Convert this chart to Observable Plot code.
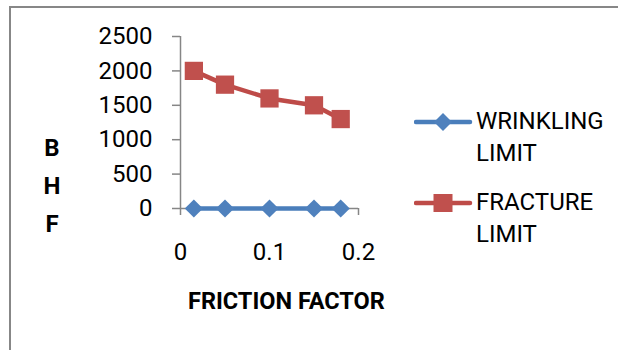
<!DOCTYPE html>
<html><head><meta charset="utf-8">
<script src="https://cdn.jsdelivr.net/npm/d3@7"></script>
<script src="https://cdn.jsdelivr.net/npm/@observablehq/plot@0.6"></script>
<style>
body{margin:0;background:#fff;font-family:Roboto,sans-serif;}
#wrap{position:relative;width:618px;height:350px;overflow:hidden;background:#fff;}
#frame{position:absolute;left:9px;top:6px;width:640px;height:400px;border:2px solid #878787;box-sizing:border-box;}
#chart{position:absolute;left:0;top:0;}
.lg{position:absolute;left:414px;display:flex;align-items:flex-start;}
.lg .t{font-size:24px;line-height:32px;color:#000;}
#ylab{position:absolute;left:40px;top:129px;width:24px;text-align:center;font-weight:bold;font-size:24px;line-height:38px;}
#xlab{position:absolute;left:188px;top:286px;font-weight:bold;font-size:23.5px;line-height:30px;white-space:nowrap;}
</style></head><body>
<div id="wrap">
  <div id="frame"></div>
  <div id="chart"></div>
  <div id="ylab">B<br>H<br>F</div>
  <div id="xlab"></div>
  <div id="legend"></div>
</div>
<script>
const friction = [0.015, 0.05, 0.1, 0.15, 0.18];
const wrinklingLimit = [0, 0, 0, 0, 0];
const fractureLimit = [2000, 1800, 1600, 1500, 1300];
const seriesNames = ["WRINKLING LIMIT", "FRACTURE LIMIT"];
const yTicks = [0, 500, 1000, 1500, 2000, 2500];
const xTicks = [0, 0.1, 0.2];
const xEndTicks = [0, 0.2];
const xTitle = "FRICTION FACTOR";

const blue = "#4f81bd", blueLine = "#4a7ebb";
const red = "#c0504d", redLine = "#be4b48";
const axisGray = "#868686";

const wr = friction.map((f, i) => ({f, v: wrinklingLimit[i]}));
const fr = friction.map((f, i) => ({f, v: fractureLimit[i]}));

const chart = Plot.plot({
  width: 618, height: 350,
  marginLeft: 180, marginRight: 260, marginTop: 36, marginBottom: 142,
  x: {domain: [0, 0.2]},
  y: {domain: [0, 2500]},
  style: {fontFamily: "Roboto, sans-serif", fontSize: "24px", background: "transparent", overflow: "visible", color: "#000"},
  marks: [
    Plot.ruleX([0], {stroke: axisGray, strokeWidth: 1.5}),
    Plot.ruleY([0], {stroke: axisGray, strokeWidth: 1.5}),
    Plot.axisY({ticks: yTicks, tickSize: 8, tickPadding: 20, stroke: axisGray, fill: "#000", label: null, fontSize: 24, strokeWidth: 1.5, tickFormat: d => String(d)}),
    Plot.axisX({ticks: xEndTicks, tickSize: 7, tickFormat: () => "", stroke: axisGray, label: null, strokeWidth: 1.5}),
    Plot.axisX({ticks: xTicks, tickSize: 0, tickPadding: 34, fill: "#000", label: null, fontSize: 24, tickFormat: d => String(d)}),
    Plot.line(wr, {x: "f", y: "v", stroke: blueLine, strokeWidth: 4.5, strokeLinejoin: "round"}),
    Plot.line(fr, {x: "f", y: "v", stroke: redLine, strokeWidth: 4.5, strokeLinejoin: "round"}),
    Plot.dot(wr, {x: "f", y: "v", symbol: "diamond2", r: 8.2, fill: blue, stroke: "none"}),
    Plot.dot(fr, {x: "f", y: "v", symbol: "square", r: 10.3, fill: red, stroke: "none"})
  ]
});
document.getElementById("chart").appendChild(chart);
document.getElementById("xlab").textContent = xTitle;

const legend = document.getElementById("legend");
const tops = [105, 186];
const swatches = [
  `<svg width="62" height="32"><line x1="2" y1="17" x2="56" y2="17" stroke="${blueLine}" stroke-width="4.5" stroke-linecap="round"/><path d="M29,8 L38,17 L29,26 L20,17 Z" fill="${blue}"/></svg>`,
  `<svg width="62" height="32"><line x1="2" y1="17" x2="56" y2="17" stroke="${redLine}" stroke-width="4.5" stroke-linecap="round"/><rect x="19.5" y="8" width="19" height="18" fill="${red}"/></svg>`
];
seriesNames.forEach((name, i) => {
  const d = document.createElement("div");
  d.className = "lg";
  d.style.top = tops[i] + "px";
  const parts = name.split(" ");
  d.innerHTML = swatches[i] + `<div class="t">${parts[0]}<br>${parts.slice(1).join(" ")}</div>`;
  legend.appendChild(d);
});
</script>
</body></html>
